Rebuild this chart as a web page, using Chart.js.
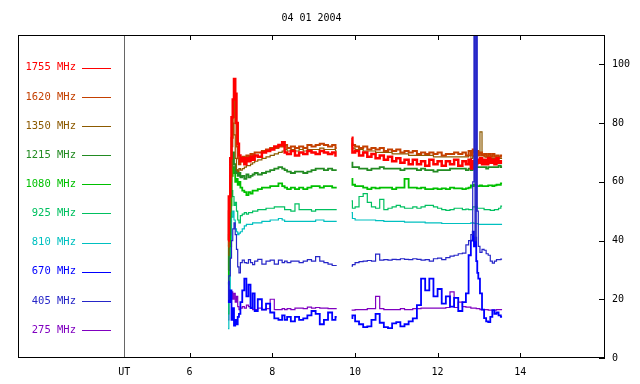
<!DOCTYPE html>
<html><head><meta charset="utf-8">
<script src="https://cdn.jsdelivr.net/npm/chart.js@4.4.1/dist/chart.umd.min.js"></script>
<style>html,body{margin:0;padding:0;background:#fff;}canvas{display:block;}</style>
</head><body>
<canvas id="c" width="640" height="384"></canvas>
<script>
const titleText = '04 01 2004';
const seriesNames = ['1755 MHz','1620 MHz','1350 MHz','1215 MHz','1080 MHz','925 MHz','810 MHz','670 MHz','405 MHz','275 MHz'];
const xTicks = [6, 8, 10, 12, 14];
const utLabel = 'UT';
const utValue = 4.42;
const yTicks = [0, 20, 40, 60, 80, 100];

// UT hours (null row at 9.74 = data gap)
const times = [6.93,6.97,7.00,7.03,7.06,7.09,7.12,7.15,7.18,7.21, 7.25,7.30,7.35,7.40,7.45,7.50,7.55,7.60,7.70,7.80, 7.90,8.00,8.10,8.20,8.28,8.32,8.40,8.50,8.60,8.70, 8.80,8.90,9.00,9.10,9.20,9.30,9.40,9.50,9.56,
 9.74,
 9.92,9.96,10.05,10.15,10.25,10.35,10.45,10.55,10.65,10.75, 10.85,10.95,11.05,11.15,11.25,11.35,11.45,11.55,11.65,11.75, 11.85,11.95,12.05,12.15,12.25,12.35,12.45,12.55,12.65,12.72, 12.78,12.83,12.87,12.89,12.92,12.95,12.97,13.00,13.05,13.10, 13.15,13.20,13.25,13.30,13.35,13.40,13.45,13.50,13.56];

const f1755 = [40,55,68,82,88,95,90,80,73,69, 67,68,66,68,67,68.5,67.5,69,68.5,70, 70.5,71,72,72.5,73.5,70,69.5,70.5,69,70, 69.5,70.5,70,69.5,70.5,70,69.5,70,69,
 null,
 75,70,70.5,69,70,68.5,69.5,68,69,67.5, 68.5,67,68,66.5,67.5,66,67.5,66,67,65.5, 67.5,66,67,65.5,67,66,67.5,65.5,67,66, 67.5,64.5,67,66,68,66,67.5,66.5,68,66, 67.5,66,68,66.5,67.5,66,68,66.5,67];
const f1620 = [38,50,62,75,82,88,80,72,68,66, 67,68.5,68,69,68.5,69.5,69,70,70,70.5, 71,71.5,71.5,72,72,72.5,71.5,72,71.5,72, 71.5,72.5,72,72.5,73,72.5,72,72.5,71.5,
 null,
 73,72.5,72,71.5,72,71,71.5,71,71.5,70.5, 71,70.5,71,70,70.5,70,70.5,69.5,70,69.5, 70,69.5,70,69,69.5,69.5,70,69.5,70,69, 70.5,69,71,70,71,69.5,70.5,69,70,69, 69.5,68.5,69.5,68.5,69.5,68.5,69,68.5,69];
const f1350 = [35,48,60,72,80,76,68,64,63.5,64.5, 64,64.5,65,65.5,65.5,66,66.5,67,67.5,68, 68.5,69,69.5,70,70.5,71,70.5,71,70.5,71, 70.5,71,71,71,71.5,71,71,71,70.5,
 null,
 72,71.5,71,71,70.5,70.5,70.5,70,70,70, 70,69.5,69.5,69.5,69.5,69,69,69,69,69, 69,68.5,68.5,68.5,68.5,68.5,68.5,68.5,68.5,68.5, 69,68,69,68.5,69,68.5,69,70,77,69, 68.5,68.5,68.5,68,68,68,68,68,68];
const f1215 = [30,42,55,65,70,66,63,64,62,63, 61.5,62,61,62.5,61.5,62,62.5,63,62.5,63, 63.5,64,64.5,65,64.5,64,63.5,63,63.5,63.5, 63,63.5,64,64.5,64.5,64,64.5,64,64,
 null,
 66.5,65,65,64.5,64.5,64,64.5,64.5,65,64.5, 64.5,64.5,64.5,64,64.5,64.5,64.5,64,64.5,64, 64,63.5,64,64,64,64.5,64.5,64.5,64.5,64, 64.5,64,65,64.5,65,65,65,65,65,65, 65,64.5,65,65,65,65,65,65.5,65];
const f1080 = [25,38,52,62,65,63,60,61,59,60, 58,57,56.5,55.5,56.5,56,57,57,57.5,58, 58,58.5,58.5,59.5,58.5,58,57.5,58,57.5,58, 57.5,58,58.5,58.5,58,58.5,58.5,58,58,
 null,
 61,59,58.5,58.5,58,57.5,58,57.8,58,58, 58,57.5,58,58,61,58,58,57.8,58,57.5, 57.5,57.8,57.5,57.8,57.5,58,57.8,57.8,57.5,57.8, 58,58.8,58.5,59,58.8,58.8,58.5,58.5,58.8,58.5, 58.5,58.5,58.8,58.8,58.5,58.8,59,59,59.5];
const f925 = [15,30,48,57,55,52,53,50,47,46, 48.5,49,49.5,49,49.5,49.5,50,50,50.5,50.5, 51,51,51.5,51.5,51.5,50.5,50.5,50,52.5,50.5, 50.5,50.5,50,50.5,50.5,50.5,50.5,50.5,50.5,
 null,
 53.5,51,51.5,55,56,53,51.5,51,54,50.5, 51,51.5,52,51.5,51,51,51.5,51,51.5,52, 52,51.5,51,50.5,50.3,50.5,51,51,50.5,50.7, 50.5,50.5,51.5,51.5,51.5,51.5,51,51,51,51, 50.5,50.5,50.5,50.3,50.3,50.5,50.5,51,51.7];
const f810 = [10,22,38,48,50,47,44,43,42,42.5, 43,44,45,45.5,45.5,45.5,46,46,46,46.5, 46.5,47,47,47.5,47,46.5,46.5,46.5,46.5,46.5, 46.5,46.5,46.5,47,47,46.5,46.5,46.5,46.5,
 null,
 49.5,47.5,47,47,47,47,47,46.8,46.8,46.5, 46.5,46.5,46.5,46.5,46.3,46.3,46.3,46.3,46.3,46, 46,46,46,45.8,45.8,45.8,45.8,45.8,45.8,45.8, 45.8,46,46,45.8,45.8,45.8,45.8,45.5,45.5,45.5, 45.5,45.5,45.5,45.5,45.5,45.5,45.5,45.5,45.5];
const f670 = [26,19,23,13,17,11,13,11.5,14,15, 19,23,27,21,25,17,22,16,20,16.5, 18.5,15.5,13.5,13,14.5,13,14,12.5,14,13, 13.5,14.5,16,15,11.5,13,15.5,13,14,
 null,
 13.6,14.5,12.5,11.5,10.5,10.8,13,15,12,10.5, 10.2,11.8,12.2,10.8,11.5,12.5,13.5,18,27,23, 27,21,23.5,18.5,21,17.5,20.5,16,19,22, 35,40,43,38,41,33,29,27,22,16.5, 13.6,12.5,12.2,14,16.3,15,15.5,14.5,14];
const f405 = [20,28,34,40,44,46,42,37,31,29, 32.5,33.3,32.5,32.3,33.5,32.5,31.8,33,33.6,32, 33,33.3,32,33.3,32.5,33,32.5,33,33,32.5, 33,33.5,33,34.5,33,32.5,32,31.5,31.5,
 null,
 31.3,31.8,32.5,32.8,33,33.2,33,35.4,33.3,33.5, 33.3,33.6,33.5,33.8,33.6,33.5,33.8,33.6,33.3,33.5, 33,33.8,34,33.5,34.2,34.7,35,35.5,35.7,38.5, 40,42,60,125,40,125,50,38,36,37, 36.7,35.5,35,33,32.3,33,33.5,33.5,33.7];
const f275 = [13,22,20,22.5,20,22,19,21,17.5,16.5, 17,17.5,17,18,17.5,17,16.5,16.5,17,16.5, 16.8,20,16.5,16.5,16.8,16.5,16.8,16.5,17,17, 16.8,17.3,17,17.2,17,17,16.8,16.8,16.8,
 null,
 16.3,16.3,16.5,16.5,16.5,16.8,16.8,21,16.8,16.5, 16.5,16.5,16.5,16.8,16.5,16.5,16.8,16.8,17,17, 17,17,17,17,17.2,22.5,17.2,19,17.5,17.3, 17.3,17,17,17,17,16.8,16.8,16.8,16.5,16.5, 16.5,16.5,16.3,16.3,16.3,16.3,16.5,16.5,16.5];

const seriesValues = [f1755,f1620,f1350,f1215,f1080,f925,f810,f670,f405,f275];
const colors = ['#ff0000','#c44000','#8c5a00','#228b22','#00c000','#00c060','#00c0c0','#0000ff','#2626c8','#8000c0'];
const widths = [2.5,2,1.2,1.8,1.8,1.2,1.2,1.8,1.2,1.2];
const orders = [2,3,4,5,6,7,8,1,0,9];
const FONT = {family: 'DejaVu Sans Mono', size: 10, weight: 'normal'};

const datasets = seriesNames.map((name, k) => ({
  label: name,
  data: times.map((t, i) => ({x: t, y: seriesValues[k][i]})),
  borderColor: colors[k],
  backgroundColor: colors[k],
  borderWidth: widths[k],
  pointRadius: 0,
  stepped: 'middle',
  spanGaps: false,
  fill: false,
  order: orders[k]
}));

const framePlugin = {
  id: 'frame',
  beforeDatasetsDraw(chart) {
    const ctx = chart.ctx, a = chart.chartArea, xs = chart.scales.x;
    const ux = Math.round(xs.getPixelForValue(utValue)) + 0.5;
    ctx.save();
    ctx.strokeStyle = '#666666'; ctx.lineWidth = 1;
    ctx.beginPath(); ctx.moveTo(ux, a.top); ctx.lineTo(ux, a.bottom); ctx.stroke();
    ctx.restore();
  },
  afterDraw(chart) {
    const ctx = chart.ctx, a = chart.chartArea, xs = chart.scales.x, ys = chart.scales.y;
    ctx.save();
    ctx.strokeStyle = '#000'; ctx.lineWidth = 1;
    ctx.strokeRect(Math.round(a.left) + 0.5, Math.round(a.top) + 0.5, Math.round(a.width) - 1, Math.round(a.height) - 1);
    ctx.beginPath();
    xTicks.forEach(v => {
      const px = Math.round(xs.getPixelForValue(v)) + 0.5;
      ctx.moveTo(px, a.top); ctx.lineTo(px, a.top + 5);
      ctx.moveTo(px, a.bottom); ctx.lineTo(px, a.bottom - 5);
    });
    yTicks.forEach(v => {
      const py = Math.round(ys.getPixelForValue(v)) + 0.5;
      ctx.moveTo(a.right - 6, py); ctx.lineTo(a.right, py);
    });
    ctx.stroke();
    // legend
    ctx.font = '10.5px "DejaVu Sans Mono"';
    ctx.textAlign = 'right'; ctx.textBaseline = 'middle';
    seriesNames.forEach((name, k) => {
      const y = 67.7 + k * 29.15;
      ctx.fillStyle = colors[k];
      ctx.fillText(name, 76, y);
      ctx.strokeStyle = colors[k]; ctx.lineWidth = 1;
      const yy = Math.round(y) + 0.5;
      ctx.beginPath(); ctx.moveTo(82, yy); ctx.lineTo(111, yy); ctx.stroke();
    });
    ctx.restore();
  }
};

new Chart(document.getElementById('c'), {
  type: 'line',
  data: {datasets},
  plugins: [framePlugin],
  options: {
    responsive: false, animation: false, devicePixelRatio: 1,
    layout: {padding: {left: 18, right: 0, top: 0, bottom: 0}},
    plugins: {
      legend: {display: false},
      tooltip: {enabled: false},
      title: {display: true, text: titleText, fullSize: false, color: '#000', font: FONT, padding: {top: 12, bottom: 11}}
    },
    scales: {
      x: {
        type: 'linear', position: 'bottom', min: 1.85, max: 16.05,
        grid: {display: false, drawTicks: false}, border: {display: false},
        afterBuildTicks: s => { s.ticks = [utValue, ...xTicks].map(v => ({value: v})); },
        afterFit: s => { s.height = 26; },
        ticks: {autoSkip: false, maxRotation: 0, minRotation: 0, padding: 8, color: '#000', font: FONT,
          callback: v => v === utValue ? utLabel : String(v)}
      },
      y: {
        type: 'linear', position: 'right', min: 0, max: 110,
        grid: {display: false, drawTicks: false}, border: {display: false},
        afterBuildTicks: s => { s.ticks = yTicks.map(v => ({value: v})); },
        afterFit: s => { s.width = 35; },
        ticks: {padding: 7, color: '#000', font: FONT, callback: v => String(v)}
      }
    }
  }
});
</script>
</body></html>
